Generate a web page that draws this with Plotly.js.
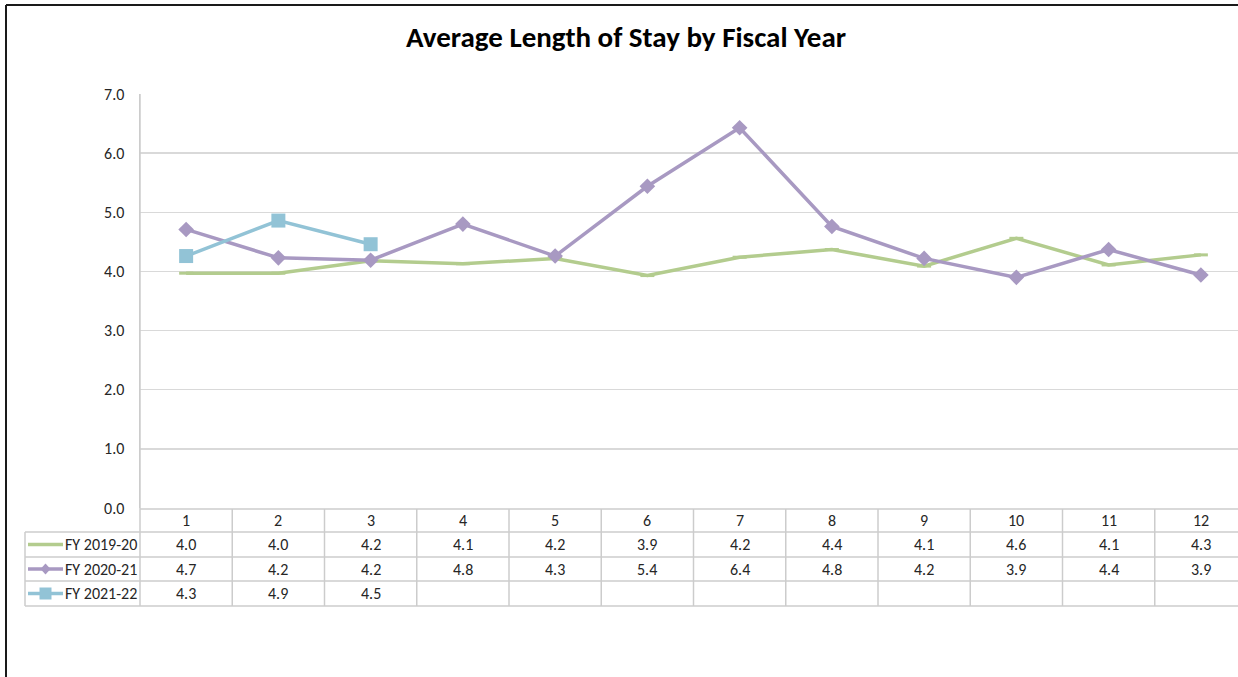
<!DOCTYPE html>
<html>
<head>
<meta charset="utf-8">
<script src="https://cdn.plot.ly/plotly-3.0.1.min.js"></script>
<style>
  html, body { margin: 0; padding: 0; background: #ffffff; overflow: hidden; }
  #chart { position: absolute; left: 0; top: 0; }
</style>
</head>
<body>
<div id="chart"></div>
<script>
// Monthly average length of stay (days) per fiscal year
const months = [1, 2, 3, 4, 5, 6, 7, 8, 9, 10, 11, 12];
const seriesNames = ["FY 2019-20", "FY 2020-21", "FY 2021-22"];
const fy1920 = [3.97, 3.97, 4.18, 4.13, 4.22, 3.93, 4.24, 4.37, 4.09, 4.56, 4.11, 4.28];
const fy2021 = [4.71, 4.23, 4.19, 4.80, 4.26, 5.44, 6.43, 4.76, 4.22, 3.90, 4.37, 3.94];
const fy2122 = [4.26, 4.86, 4.46];
const yTicks = [0, 1, 2, 3, 4, 5, 6, 7];

const seriesValues = [fy1920, fy2021, fy2122];
const colors = ["#b3cc8e", "#a899c2", "#92c3d6"];
const symbols = ["line-ew-open", "diamond", "square"];
const markerSizes = [10, 12, 14];

// Figure geometry (pixels)
const W = 1300, H = 720;
const L = 140, R = 1247, T = 94, B = 508;
const plotW = R - L, plotH = B - T;
const px = x => (x - L) / plotW;          // pixel x -> paper x
const py = y => (B - y) / plotH;          // pixel y -> paper y

const FONT = "Carlito, Lato, 'Liberation Sans', sans-serif";
const TEXT = "#262626";
const GRID = "#d9d9d9";
const TABLE_LINE = "#cccccc";
const RULE = { color: TABLE_LINE, width: 1.5 };

const traces = seriesValues.map((vals, i) => ({
  type: "scatter",
  mode: "lines+markers",
  name: seriesNames[i],
  x: months.slice(0, vals.length),
  y: vals,
  line: { color: colors[i], width: 3.5 },
  marker: i === 0
    ? { symbol: symbols[i], size: markerSizes[i], color: colors[i], line: { color: colors[i], width: 3 } }
    : { symbol: symbols[i], size: markerSizes[i], color: colors[i], line: { width: 0 } },
  hoverinfo: "x+y+name"
}));

// Data table under the axis: row boundaries in pixels
const rowEdges = [509, 532, 557, 581, 606];
const legendLeft = 25;

const shapes = [];
const annotations = [];

// chart area border (left and top edges)
shapes.push({ type: "line", xref: "paper", yref: "paper", x0: px(6), x1: px(6), y0: py(5), y1: py(H + 10),
  line: { color: "#1a1a1a", width: 2 } });
shapes.push({ type: "line", xref: "paper", yref: "paper", x0: px(6), x1: px(W + 10), y0: py(5), y1: py(5),
  line: { color: "#1a1a1a", width: 2 } });

// horizontal rules: month columns (x axis units) and the legend column (paper units)
rowEdges.forEach((edge, r) => {
  shapes.push({ type: "line", xref: "x", yref: "paper", x0: 0.5, x1: 12.5, y0: py(edge), y1: py(edge), line: RULE });
  if (r > 0) {
    shapes.push({ type: "line", xref: "paper", yref: "paper", x0: px(legendLeft), x1: 0, y0: py(edge), y1: py(edge), line: RULE });
  }
});
// vertical rules between months
months.forEach(m => {
  shapes.push({ type: "line", xref: "x", yref: "paper", x0: m + 0.5, x1: m + 0.5,
    y0: py(rowEdges[0]), y1: py(rowEdges[4]), line: RULE });
});
// axis line continued through the table, and the legend column's left edge
shapes.push({ type: "line", xref: "paper", yref: "paper", x0: 0, x1: 0, y0: 1, y1: py(rowEdges[4]), line: RULE });
shapes.push({ type: "line", xref: "paper", yref: "paper", x0: px(legendLeft), x1: px(legendLeft),
  y0: py(rowEdges[1]), y1: py(rowEdges[4]), line: RULE });

const rowMid = r => py((rowEdges[r] + rowEdges[r + 1]) / 2);
const cellFont = { family: FONT, size: 16, color: TEXT };

// header row: month numbers
months.forEach(m => {
  annotations.push({ xref: "x", yref: "paper", x: m, y: rowMid(0), text: String(m), showarrow: false,
    font: cellFont, xanchor: "center", yanchor: "middle" });
});

// series rows: legend key + values
seriesValues.forEach((vals, i) => {
  const yMid = rowMid(i + 1);
  const yPix = (rowEdges[i + 1] + rowEdges[i + 2]) / 2;
  shapes.push({ type: "line", xref: "paper", yref: "paper", x0: px(28), x1: px(63), y0: yMid, y1: yMid,
    line: { color: colors[i], width: 3.5 } });
  const cx = 45.5;
  if (i === 1) {
    shapes.push({ type: "path", xref: "paper", yref: "paper",
      path: `M ${px(cx - 5)},${yMid} L ${px(cx)},${py(yPix - 5.5)} L ${px(cx + 5)},${yMid} L ${px(cx)},${py(yPix + 5.5)} Z`,
      fillcolor: colors[i], line: { width: 0 } });
  } else if (i === 2) {
    shapes.push({ type: "rect", xref: "paper", yref: "paper", x0: px(cx - 6), x1: px(cx + 6),
      y0: py(yPix + 6), y1: py(yPix - 6), fillcolor: colors[i], line: { width: 0 } });
  }
  annotations.push({ xref: "paper", yref: "paper", x: px(63), y: yMid, text: seriesNames[i], showarrow: false,
    font: cellFont, xanchor: "left", yanchor: "middle" });
  vals.forEach((v, k) => {
    annotations.push({ xref: "x", yref: "paper", x: months[k], y: yMid, text: v.toFixed(1), showarrow: false,
      font: cellFont, xanchor: "center", yanchor: "middle" });
  });
});

const layout = {
  width: W, height: H,
  margin: { l: L, r: W - R, t: T, b: H - B, pad: 0 },
  paper_bgcolor: "#ffffff",
  plot_bgcolor: "#ffffff",
  showlegend: false,
  title: {
    text: "<b>Average Length of Stay by Fiscal Year</b>",
    font: { family: FONT, size: 29, color: "#000000" },
    xref: "container", yref: "container",
    x: 626 / W, xanchor: "center",
    y: 1 - 37 / H, yanchor: "middle"
  },
  xaxis: {
    type: "linear",
    range: [0.5, 12.5],
    showticklabels: false,
    showgrid: false,
    zeroline: false,
    showline: false,
    ticks: ""
  },
  yaxis: {
    range: [0, 7],
    tickvals: yTicks,
    tickformat: ".1f",
    showgrid: true,
    gridcolor: GRID,
    gridwidth: 1.5,
    zeroline: false,
    showline: true,
    linecolor: TABLE_LINE,
    linewidth: 1.5,
    ticks: "",
    ticklabelstandoff: 11,
    tickfont: { family: FONT, size: 16, color: TEXT }
  },
  shapes: shapes,
  annotations: annotations
};

Plotly.newPlot("chart", traces, layout, { displayModeBar: false, staticPlot: true });
</script>
</body>
</html>
